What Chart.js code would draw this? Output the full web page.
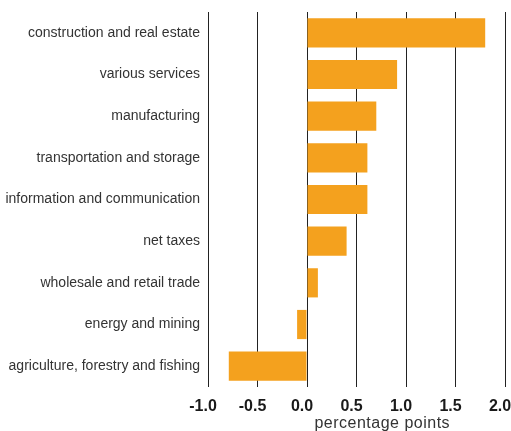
<!DOCTYPE html>
<html>
<head>
    <title>Contribution by sector</title>
    <script src="https://cdn.jsdelivr.net/npm/chart.js"></script>
    <style>
        html, body { margin: 0; padding: 0; background: #fff; }
        #wrap { width: 511px; height: 431px; }
    </style>
</head>
<body>
<div id="wrap"><canvas id="sectorChart" width="511" height="431"></canvas></div>
<script>
const sectors = [
    'construction and real estate',
    'various services',
    'manufacturing',
    'transportation and storage',
    'information and communication',
    'net taxes',
    'wholesale and retail trade',
    'energy and mining',
    'agriculture, forestry and fishing'
];
const contributions = [1.80, 0.91, 0.70, 0.61, 0.61, 0.40, 0.11, -0.10, -0.79];
const xTicks = [-1.0, -0.5, 0.0, 0.5, 1.0, 1.5, 2.0];
const axisTitle = 'percentage points';

// axis title sits a bit right of centre in the original, so draw it by hand
const titlePlugin = {
    id: 'axisTitleBelow',
    afterDraw(chart) {
        const ctx = chart.ctx;
        const x = chart.scales.x.getPixelForValue(0.76);
        ctx.save();
        ctx.font = '16px "Liberation Sans", Arial, sans-serif';
        ctx.letterSpacing = '0.5px';
        ctx.fillStyle = '#333';
        ctx.textAlign = 'center';
        ctx.textBaseline = 'middle';
        ctx.fillText(axisTitle, x, 424);
        ctx.restore();
    }
};

new Chart(document.getElementById('sectorChart').getContext('2d'), {
    type: 'bar',
    data: {
        labels: sectors,
        datasets: [{
            data: contributions,
            backgroundColor: '#F4A11E',
            borderWidth: 0,
            categoryPercentage: 1.0,
            barPercentage: 0.7
        }]
    },
    options: {
        indexAxis: 'y',
        responsive: false,
        animation: false,
        layout: { padding: { top: 12, right: 6, bottom: 0, left: 0 } },
        plugins: {
            legend: { display: false },
            tooltip: { enabled: false }
        },
        scales: {
            x: {
                min: -1,
                max: 2,
                afterBuildTicks: (scale) => { scale.ticks = xTicks.map(v => ({ value: v })); },
                afterFit: (scale) => {
                    scale.height = 44;
                    scale.paddingLeft = 0;
                    scale.paddingRight = 0;
                },
                grid: { color: '#222', lineWidth: 1, drawTicks: false },
                border: { display: false },
                ticks: {
                    padding: 10,
                    labelOffset: -5,
                    autoSkip: false,
                    maxRotation: 0,
                    color: '#1a1a1a',
                    font: { family: '"Liberation Sans", Arial, sans-serif', size: 16, weight: 'bold' },
                    callback: (v) => Number(v).toFixed(1)
                }
            },
            y: {
                afterFit: (scale) => {
                    scale.width = 208;
                    scale.paddingTop = 0;
                    scale.paddingBottom = 0;
                },
                grid: { display: false, drawTicks: false },
                border: { display: false },
                ticks: {
                    padding: 8,
                    color: '#333',
                    font: { family: '"Liberation Sans", Arial, sans-serif', size: 14 }
                }
            }
        }
    },
    plugins: [titlePlugin]
});
</script>
</body>
</html>
